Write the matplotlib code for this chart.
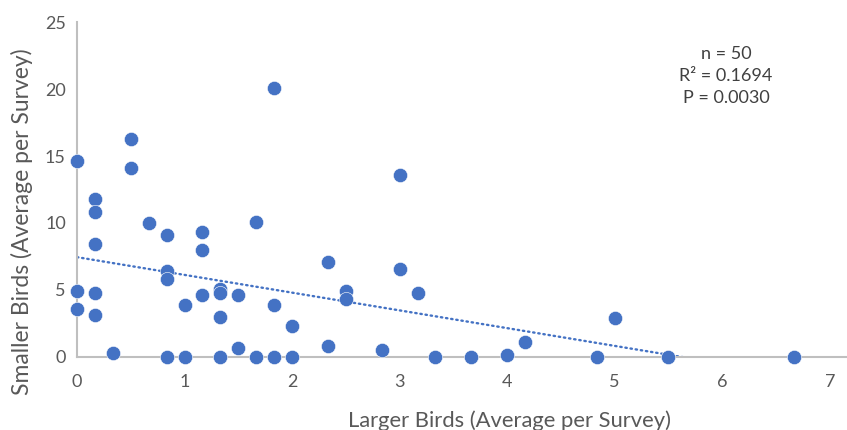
"""Scatter of smaller vs larger bird counts per survey, with a linear trendline."""

import matplotlib

matplotlib.use("Agg")
import matplotlib.pyplot as plt
import numpy as np

# average birds per survey, one pair per site
larger = [
    0, 0, 0,
    0.167, 0.167, 0.167, 0.167, 0.167,
    0.333,
    0.5, 0.5,
    0.667,
    0.833, 0.833, 0.833, 0.833,
    1.0, 1.0,
    1.167, 1.167, 1.167,
    1.333, 1.333, 1.333, 1.333,
    1.5, 1.5,
    1.667, 1.667,
    1.833, 1.833, 1.833,
    2.0, 2.0,
    2.333, 2.333,
    2.5, 2.5,
    2.833,
    3.0, 3.0,
    3.167,
    3.333,
    3.667,
    4.0,
    4.167,
    4.833,
    5.0,
    5.5,
    6.667,
]
smaller = [
    14.6, 4.9, 3.6,
    11.8, 10.8, 8.4, 4.8, 3.1,
    0.3,
    16.3, 14.1,
    10.0,
    9.1, 6.4, 5.8, 0,
    3.9, 0,
    9.3, 8.0, 4.6,
    5.1, 4.8, 3.0, 0,
    4.6, 0.7,
    10.1, 0,
    20.1, 3.9, 0,
    2.3, 0,
    7.1, 0.8,
    4.9, 4.3,
    0.5,
    13.6, 6.6,
    4.8,
    0,
    0,
    0.15,
    1.1,
    0,
    2.9,
    0,
    0,
]
stats_text = "n = 50\nR² = 0.1694\nP = 0.0030"

BLUE = "#4472C4"
GRAY_TEXT = "#595959"

plt.rcParams["font.family"] = ["Lato", "DejaVu Sans"]

fig = plt.figure(figsize=(8.47, 4.30), dpi=100)
ax = fig.add_axes([0.0909, 0.1698, 0.9091, 0.779])

ax.scatter(larger, smaller, s=105, color=BLUE, edgecolors="white",
           linewidths=0.4, zorder=3, clip_on=False)

# least-squares trendline across the data range
slope, intercept = np.polyfit(larger, smaller, 1)
xs = np.array([0, max(larger)])
ax.plot(xs, slope * xs + intercept, color=BLUE, linewidth=1.7,
        linestyle=(0, (0.6, 1.6)), dash_capstyle="round", zorder=2)

ax.set_xlim(0, 7.16)
ax.set_ylim(0, 25)
ax.set_xticks(range(0, 8))
ax.set_yticks(range(0, 26, 5))

for side in ("top", "right"):
    ax.spines[side].set_visible(False)
for side in ("left", "bottom"):
    ax.spines[side].set_color("#BFBFBF")
    ax.spines[side].set_linewidth(1.5)
ax.tick_params(length=0, labelsize=13, colors=GRAY_TEXT, pad=12)
ax.tick_params(axis="y", pad=8)

# axis titles sit a little off the plot-area centre
ax.set_xlabel("Larger Birds (Average per Survey)", fontsize=15.8,
              color=GRAY_TEXT, labelpad=15, x=0.5623)
ax.set_ylabel("Smaller Birds (Average per Survey)", fontsize=16.5,
              color=GRAY_TEXT, labelpad=9, y=0.403)

fig.text(0.857, 0.823, stats_text, ha="center", va="center", fontsize=13,
         color="#404040", linespacing=1.45)

fig.savefig("out.png", dpi=100)
plt.close(fig)
